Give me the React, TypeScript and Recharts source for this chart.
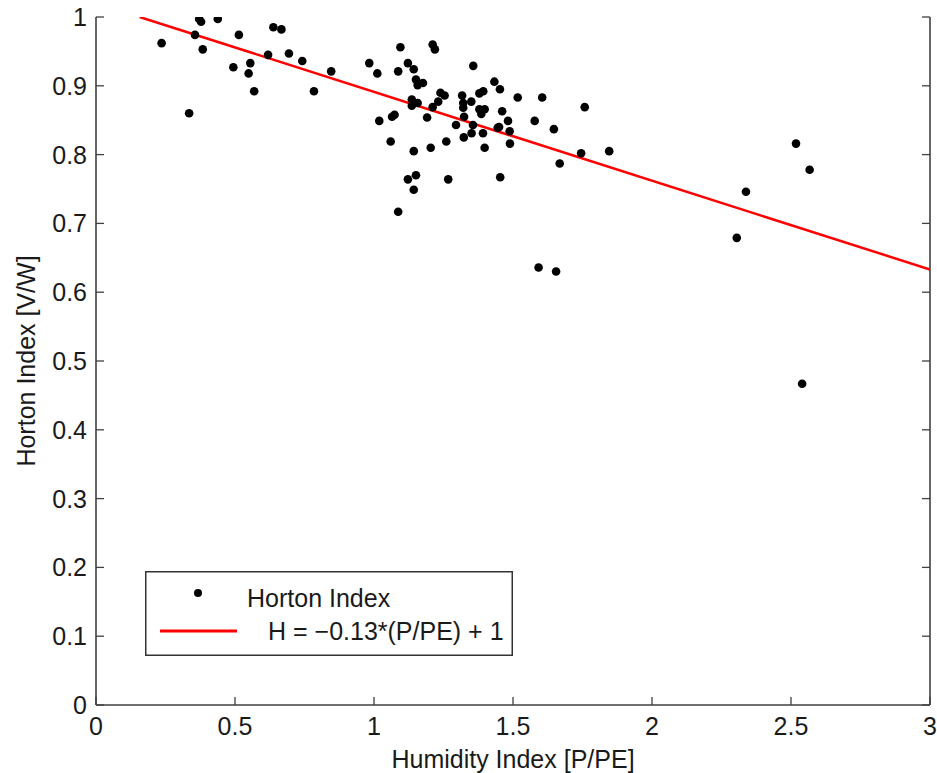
import React from 'react';
import { ScatterChart, Scatter, XAxis, YAxis, Legend } from 'recharts';

// Humidity Index [P/PE] (x) and Horton Index [V/W] (y)
const humidity = [
  0.236, 0.335, 0.371, 0.378, 0.356, 0.384, 0.438, 0.514, 0.494, 0.555,
  0.549, 0.569, 0.619, 0.638, 0.667, 0.694, 0.742, 0.784, 0.846, 0.983,
  1.012, 1.095, 1.122, 1.087, 1.143, 1.211, 1.219, 1.151, 1.157, 1.176,
  1.357, 1.433, 1.453, 1.517, 1.605, 1.758, 1.239, 1.254, 1.231, 1.317,
  1.321, 1.321, 1.350, 1.379, 1.393, 1.136, 1.136, 1.157, 1.211, 1.379,
  1.398, 1.386, 1.461, 1.065, 1.074, 1.019, 1.191, 1.324, 1.482, 1.578,
  1.295, 1.356, 1.445, 1.450, 1.647, 1.323, 1.351, 1.392, 1.488, 1.060,
  1.260, 1.489, 1.204, 1.398, 1.143, 1.745, 1.846, 1.668, 1.122, 1.151,
  1.267, 1.454, 1.143, 1.087, 1.592, 1.655, 2.518, 2.567, 2.338, 2.305,
  2.540,
];
const horton = [
  0.962, 0.860, 0.997, 0.993, 0.974, 0.953, 0.997, 0.974, 0.927, 0.933,
  0.918, 0.892, 0.945, 0.985, 0.982, 0.947, 0.936, 0.892, 0.921, 0.933,
  0.918, 0.956, 0.933, 0.921, 0.924, 0.960, 0.953, 0.909, 0.901, 0.904,
  0.929, 0.906, 0.895, 0.883, 0.883, 0.869, 0.890, 0.886, 0.877, 0.886,
  0.875, 0.868, 0.877, 0.889, 0.892, 0.880, 0.871, 0.875, 0.869, 0.866,
  0.866, 0.859, 0.863, 0.855, 0.858, 0.849, 0.854, 0.855, 0.849, 0.849,
  0.843, 0.843, 0.839, 0.840, 0.837, 0.825, 0.831, 0.831, 0.834, 0.819,
  0.819, 0.816, 0.810, 0.810, 0.805, 0.802, 0.805, 0.787, 0.764, 0.770,
  0.764, 0.767, 0.749, 0.717, 0.636, 0.630, 0.816, 0.778, 0.746, 0.679,
  0.467,
];

// Fitted line as drawn (clipped at the top of the axes)
const fitX = [0.157, 3.0];
const fitY = [1.0, 0.633];

const xTicks = [0, 0.5, 1, 1.5, 2, 2.5, 3];
const yTicks = [0, 0.1, 0.2, 0.3, 0.4, 0.5, 0.6, 0.7, 0.8, 0.9, 1];

const seriesName = 'Horton Index';
const fitName = 'H = \u22120.13*(P/PE) + 1';
const xTitle = 'Humidity Index [P/PE]';
const yTitle = 'Horton Index [V/W]';

const points = humidity.map((x, i) => ({ x, y: horton[i] }));
const fitLine = fitX.map((x, i) => ({ x, y: fitY[i] }));

const FONT = '"Liberation Sans", Arial, sans-serif';
const AXIS = '#404040';
const TEXT = '#1a1a1a';
const TICK_LEN = 8;

const BottomTick = (p: any) => (
  <g>
    <line x1={p.x} y1={p.y} x2={p.x} y2={p.y - TICK_LEN} stroke={AXIS} strokeWidth={1.3} />
    <text x={p.x} y={p.y + 30} textAnchor="middle" fontFamily={FONT} fontSize={25} fill={TEXT}>
      {String(p.payload.value)}
    </text>
  </g>
);
const TopTick = (p: any) => (
  <line x1={p.x} y1={p.y} x2={p.x} y2={p.y + TICK_LEN} stroke={AXIS} strokeWidth={1.3} />
);
const LeftTick = (p: any) => (
  <g>
    <line x1={p.x} y1={p.y} x2={p.x + TICK_LEN} y2={p.y} stroke={AXIS} strokeWidth={1.3} />
    <text x={p.x - 9} y={p.y + 9} textAnchor="end" fontFamily={FONT} fontSize={25} fill={TEXT}>
      {String(p.payload.value)}
    </text>
  </g>
);
const RightTick = (p: any) => (
  <line x1={p.x} y1={p.y} x2={p.x - TICK_LEN} y2={p.y} stroke={AXIS} strokeWidth={1.3} />
);

const Dot = (p: any) => <circle cx={p.cx} cy={p.cy} r={4.3} fill="#000" />;
const NoShape = () => <g />;

const LegendBox = () => (
  <svg width={368} height={85} style={{ display: 'block' }}>
    <rect x={0.75} y={0.75} width={366.5} height={83.5} fill="#fff" stroke="#333" strokeWidth={1.5} />
    <circle cx={53} cy={22} r={4} fill="#000" />
    <text x={102} y={36} fontFamily={FONT} fontSize={25} fill={TEXT}>{seriesName}</text>
    <line x1={15} y1={60} x2={92} y2={60} stroke="#ff0000" strokeWidth={3} />
    <text x={123} y={69} fontFamily={FONT} fontSize={25} fill={TEXT}>{fitName}</text>
  </svg>
);

export default function App() {
  return (
    <div style={{ position: 'absolute', left: 0, top: 0, background: '#fff' }}>
      <ScatterChart
        width={937}
        height={773}
        margin={{ top: 17, right: 0, bottom: 0, left: 0 }}
        style={{ background: '#fff' }}
      >
        <XAxis
          xAxisId="bottom"
          type="number"
          dataKey="x"
          domain={[0, 3]}
          ticks={xTicks}
          interval={0}
          allowDataOverflow
          height={68}
          tickSize={0}
          tickMargin={0}
          tickLine={false}
          tick={BottomTick}
          axisLine={{ stroke: AXIS, strokeWidth: 1.6 }}
          label={{
            value: xTitle,
            position: 'insideBottom',
            offset: 5,
            fontFamily: FONT,
            fontSize: 25,
            fill: TEXT,
          }}
        />
        <XAxis
          xAxisId="top"
          orientation="top"
          type="number"
          dataKey="x"
          domain={[0, 3]}
          ticks={xTicks}
          interval={0}
          allowDataOverflow
          height={0}
          tickSize={0}
          tickMargin={0}
          tickLine={false}
          tick={TopTick}
          axisLine={{ stroke: AXIS, strokeWidth: 1.6 }}
        />
        <YAxis
          yAxisId="left"
          type="number"
          dataKey="y"
          domain={[0, 1]}
          ticks={yTicks}
          interval={0}
          allowDataOverflow
          width={96}
          tickSize={0}
          tickMargin={0}
          tickLine={false}
          tick={LeftTick}
          axisLine={{ stroke: AXIS, strokeWidth: 1.6 }}
          label={(props: any) => {
            const vb = props.viewBox || { y: 17, height: 688 };
            const cy = vb.y + vb.height / 2;
            return (
              <text
                x={35}
                y={cy}
                transform={`rotate(-90, 35, ${cy})`}
                textAnchor="middle"
                fontFamily={FONT}
                fontSize={25}
                fill={TEXT}
              >
                {yTitle}
              </text>
            );
          }}
        />
        <YAxis
          yAxisId="right"
          orientation="right"
          type="number"
          dataKey="y"
          domain={[0, 1]}
          ticks={yTicks}
          interval={0}
          allowDataOverflow
          width={7}
          tickSize={0}
          tickMargin={0}
          tickLine={false}
          tick={RightTick}
          axisLine={{ stroke: AXIS, strokeWidth: 1.6 }}
        />
        <Scatter
          name="frame"
          data={points}
          xAxisId="top"
          yAxisId="right"
          shape={NoShape}
          legendType="none"
          isAnimationActive={false}
        />
        <Scatter
          name={fitName}
          data={fitLine}
          xAxisId="bottom"
          yAxisId="left"
          line={{ stroke: '#ff0000', strokeWidth: 2.5 }}
          lineType="joint"
          shape={NoShape}
          isAnimationActive={false}
        />
        <Scatter
          name={seriesName}
          data={points}
          xAxisId="bottom"
          yAxisId="left"
          shape={Dot}
          isAnimationActive={false}
        />
        <Legend
          layout="horizontal"
          verticalAlign="middle"
          align="center"
          content={LegendBox}
          wrapperStyle={{ position: 'absolute', left: 145, top: 571, width: 368, height: 85 }}
        />
      </ScatterChart>
    </div>
  );
}
